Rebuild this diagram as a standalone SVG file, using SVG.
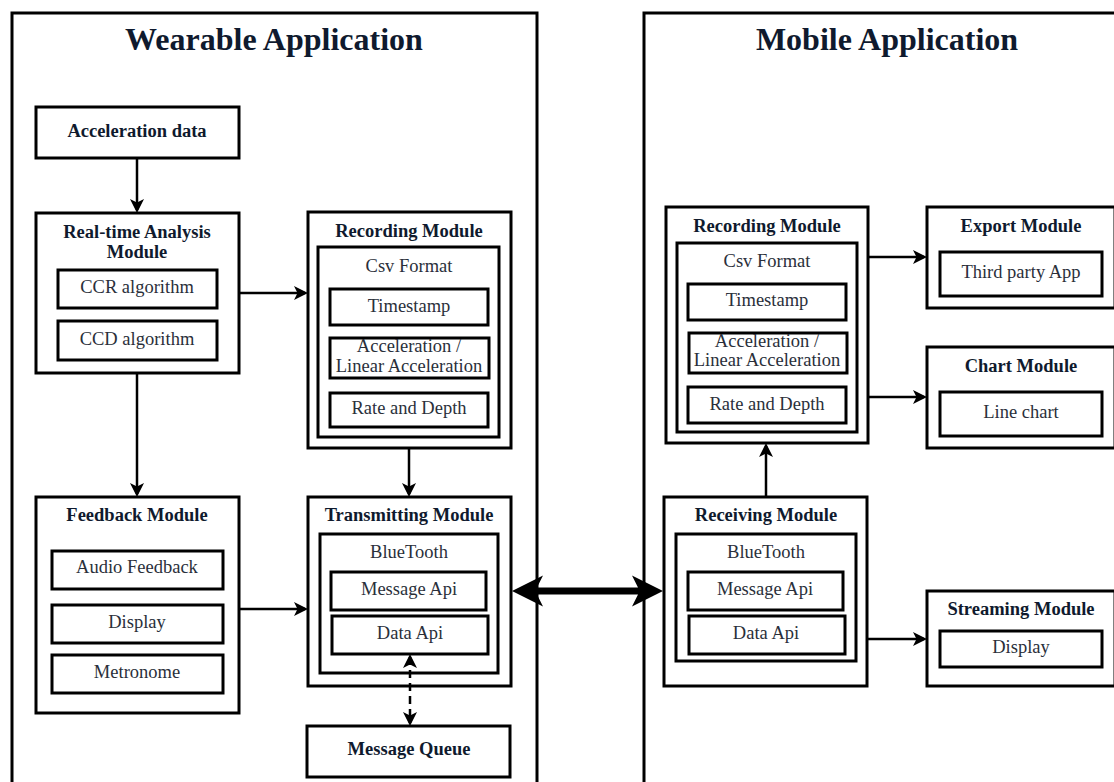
<svg xmlns="http://www.w3.org/2000/svg" width="1114" height="782" viewBox="0 0 1114 782">
<style>
  .box{fill:none;stroke:#000;stroke-width:3}
  .bg{fill:#fff}
  .big{font-family:"Liberation Serif","Times New Roman",serif;font-weight:bold;font-size:32px;fill:#0f1a2e;text-anchor:middle}
  .hd{font-family:"Liberation Serif","Times New Roman",serif;font-weight:bold;font-size:18.5px;fill:#0f1a2e;text-anchor:middle}
  .tx{font-family:"Liberation Serif","Times New Roman",serif;font-size:18.5px;fill:#2a2f3a;text-anchor:middle}
  .ln{fill:none;stroke:#000;stroke-width:2.5}
  .dash{stroke-dasharray:8 5}
</style>
<defs>
  <marker id="ah" viewBox="0 0 14 14" refX="11" refY="7" markerWidth="14" markerHeight="14" markerUnits="userSpaceOnUse" orient="auto-start-reverse">
    <path d="M0,0 L14,7 L0,14 L3.5,7 Z" fill="#000"/>
  </marker>
</defs>
<rect width="1114" height="782" fill="#fff"/>

<g id="wearable-app">
  <rect class="box" x="12" y="13" width="525" height="800"/>
  <text class="big" x="274" y="50">Wearable Application</text>
</g>
<g id="mobile-app">
  <rect class="box" x="644" y="13" width="520" height="800"/>
  <text class="big" x="887" y="50">Mobile Application</text>
</g>

<g id="acceleration-data">
  <rect class="box" x="36" y="107" width="203" height="51"/>
  <text class="hd" x="137" y="137">Acceleration data</text>
</g>

<g id="realtime-analysis">
  <rect class="box" x="36" y="213" width="203" height="160"/>
  <text class="hd" x="137" y="238">Real-time Analysis</text>
  <text class="hd" x="137" y="258">Module</text>
  <rect class="box" x="58" y="270" width="159" height="38"/>
  <text class="tx" x="137" y="293">CCR algorithm</text>
  <rect class="box" x="58" y="321" width="159" height="39"/>
  <text class="tx" x="137" y="345">CCD algorithm</text>
</g>

<g id="feedback-module">
  <rect class="box" x="36" y="497" width="203" height="216"/>
  <text class="hd" x="137" y="521">Feedback Module</text>
  <rect class="box" x="52" y="551" width="171" height="38"/>
  <text class="tx" x="137" y="573">Audio Feedback</text>
  <rect class="box" x="52" y="605" width="171" height="38"/>
  <text class="tx" x="137" y="628">Display</text>
  <rect class="box" x="52" y="655" width="171" height="38"/>
  <text class="tx" x="137" y="678">Metronome</text>
</g>

<g id="w-recording-module">
  <rect class="box" x="308" y="212" width="203" height="236"/>
  <text class="hd" x="409" y="237">Recording Module</text>
  <rect class="box" x="318" y="247" width="181" height="190"/>
  <text class="tx" x="409" y="272">Csv Format</text>
  <rect class="box" x="330" y="289" width="158" height="36"/>
  <text class="tx" x="409" y="312">Timestamp</text>
  <rect class="box" x="330" y="338" width="159" height="40"/>
  <text class="tx" x="409" y="352">Acceleration /</text>
  <text class="tx" x="409" y="372">Linear Acceleration</text>
  <rect class="box" x="330" y="393" width="158" height="34"/>
  <text class="tx" x="409" y="414">Rate and Depth</text>
</g>

<g id="transmitting-module">
  <rect class="box" x="308" y="497" width="203" height="189"/>
  <text class="hd" x="409" y="521">Transmitting Module</text>
  <rect class="box" x="320" y="534" width="178" height="139"/>
  <text class="tx" x="409" y="558">BlueTooth</text>
  <rect class="box" x="331" y="572" width="155" height="38"/>
  <text class="tx" x="409" y="595">Message Api</text>
  <rect class="box" x="332" y="616" width="156" height="38"/>
  <text class="tx" x="410" y="639">Data Api</text>
</g>

<g id="message-queue">
  <rect class="box" x="307" y="726" width="203" height="51"/>
  <text class="hd" x="409" y="755">Message Queue</text>
</g>

<g id="m-recording-module">
  <rect class="box" x="666" y="207" width="202" height="236"/>
  <text class="hd" x="767" y="232">Recording Module</text>
  <rect class="box" x="677" y="243" width="180" height="189"/>
  <text class="tx" x="767" y="267">Csv Format</text>
  <rect class="box" x="688" y="284" width="158" height="36"/>
  <text class="tx" x="767" y="306">Timestamp</text>
  <rect class="box" x="689" y="333" width="158" height="40"/>
  <text class="tx" x="767" y="347">Acceleration /</text>
  <text class="tx" x="767" y="366">Linear Acceleration</text>
  <rect class="box" x="688" y="387" width="158" height="36"/>
  <text class="tx" x="767" y="410">Rate and Depth</text>
</g>

<g id="export-module">
  <rect class="box" x="927" y="207" width="188" height="101"/>
  <text class="hd" x="1021" y="232">Export Module</text>
  <rect class="box" x="940" y="252" width="162" height="44"/>
  <text class="tx" x="1021" y="278">Third party App</text>
</g>

<g id="chart-module">
  <rect class="box" x="927" y="347" width="188" height="101"/>
  <text class="hd" x="1021" y="372">Chart Module</text>
  <rect class="box" x="940" y="392" width="162" height="44"/>
  <text class="tx" x="1021" y="418">Line chart</text>
</g>

<g id="receiving-module">
  <rect class="box" x="664" y="497" width="203" height="189"/>
  <text class="hd" x="766" y="521">Receiving Module</text>
  <rect class="box" x="676" y="534" width="180" height="127"/>
  <text class="tx" x="766" y="558">BlueTooth</text>
  <rect class="box" x="688" y="572" width="155" height="38"/>
  <text class="tx" x="765" y="595">Message Api</text>
  <rect class="box" x="689" y="616" width="156" height="38"/>
  <text class="tx" x="766" y="639">Data Api</text>
</g>

<g id="streaming-module">
  <rect class="box" x="927" y="591" width="188" height="95"/>
  <text class="hd" x="1021" y="615">Streaming Module</text>
  <rect class="box" x="940" y="631" width="162" height="36"/>
  <text class="tx" x="1021" y="653">Display</text>
</g>

<g id="connectors">
  <line class="ln" x1="137" y1="158" x2="137" y2="210" marker-end="url(#ah)"/>
  <line class="ln" x1="137" y1="373" x2="137" y2="494" marker-end="url(#ah)"/>
  <line class="ln" x1="239" y1="293" x2="305" y2="293" marker-end="url(#ah)"/>
  <line class="ln" x1="239" y1="609" x2="305" y2="609" marker-end="url(#ah)"/>
  <line class="ln" x1="409" y1="448" x2="409" y2="494" marker-end="url(#ah)"/>
  <line class="ln dash" x1="410" y1="657" x2="410" y2="723" marker-start="url(#ah)" marker-end="url(#ah)"/>
  <path d="M512,591 L543,575.5 L537,587.5 L638,587.5 L632,575.5 L663,591 L632,606.5 L638,594.5 L537,594.5 L543,606.5 Z" fill="#000"/>
  <line class="ln" x1="766" y1="497" x2="766" y2="446" marker-end="url(#ah)"/>
  <line class="ln" x1="868" y1="257" x2="924" y2="257" marker-end="url(#ah)"/>
  <line class="ln" x1="868" y1="397" x2="924" y2="397" marker-end="url(#ah)"/>
  <line class="ln" x1="867" y1="639" x2="924" y2="639" marker-end="url(#ah)"/>
</g>
</svg>
